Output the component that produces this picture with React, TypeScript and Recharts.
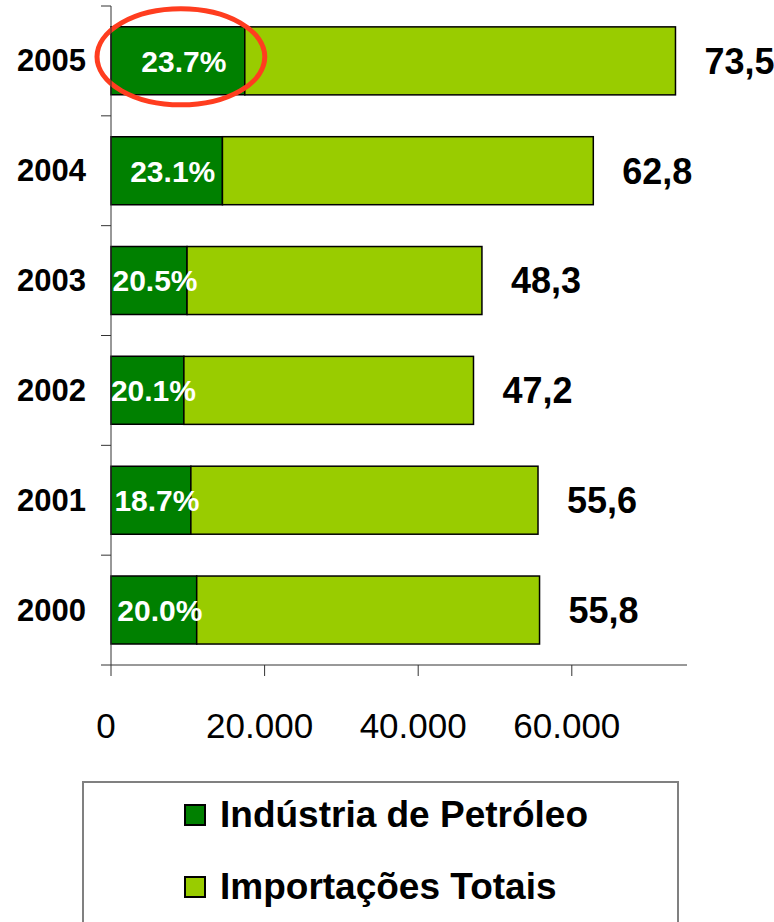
import { Bar, BarChart, XAxis, YAxis } from "recharts";

const years = ["2005", "2004", "2003", "2002", "2001", "2000"];
const petroleo = [17420, 14510, 9900, 9490, 10400, 11160];
const outrasImportacoes = [56080, 48290, 38400, 37710, 45200, 44640];
const totalLabels = ["73,5", "62,8", "48,3", "47,2", "55,6", "55,8"];
const shareLabels = ["23.7%", "23.1%", "20.5%", "20.1%", "18.7%", "20.0%"];
const xTicks = [0, 20000, 40000, 60000];
const highlightYear = "2005";

const series = [
  { key: "petroleo", name: "Indústria de Petróleo", color: "#008000" },
  { key: "outras", name: "Importações Totais", color: "#99cc00" },
];

const data = years.map((year, i) => ({
  year,
  petroleo: petroleo[i],
  outras: outrasImportacoes[i],
  total: totalLabels[i],
  share: shareLabels[i],
}));

const FONT = '"Liberation Sans", Arial, Helvetica, sans-serif';
const AXIS = "#333";

const fmt = (v: number) => String(v).replace(/\B(?=(\d{3})+(?!\d))/g, ".");

function YearTick(props: any) {
  const { x, y, payload, index } = props;
  const half = payload?.offset ?? 55;
  return (
    <g>
      <line x1={x + 15} x2={x + 25} y1={y - half} y2={y - half} stroke={AXIS} />
      {index === years.length - 1 && (
        <line x1={x + 15} x2={x + 25} y1={y + half} y2={y + half} stroke={AXIS} />
      )}
      <text x={x} y={y} dy="0.34em" textAnchor="end" fontSize={31} fontWeight="bold" fill="#000" fontFamily={FONT}>
        {payload.value}
      </text>
    </g>
  );
}

function ValueTick(props: any) {
  const { x, y, payload } = props;
  return (
    <text x={x - 5} y={y + 60} textAnchor="middle" fontSize={35} fill="#000" fontFamily={FONT}>
      {fmt(payload.value)}
    </text>
  );
}

// segmento externo: desenha também os rótulos e o destaque de 2005
function OuterSegment(props: any) {
  const { x, y, width, height, payload } = props;
  const unit = width / payload.outras;
  const greenW = payload.petroleo * unit;
  const greenX = x - greenW;
  const cy = y + height / 2;
  return (
    <g>
      <rect x={x} y={y} width={width} height={height} fill={series[1].color} stroke="#000" strokeWidth={1.5} />
      <text x={greenX + greenW / 2 + 6} y={cy} dy="0.36em" textAnchor="middle" fill="#fff" fontSize={30} fontWeight="bold" fontFamily={FONT}>
        {payload.share}
      </text>
      <text x={x + width + 29} y={cy} dy="0.36em" fill="#000" fontSize={36} fontWeight="bold" fontFamily={FONT}>
        {payload.total}
      </text>
      {payload.year === highlightYear && (
        <ellipse
          cx={greenX + greenW / 2 + 3}
          cy={cy - 4}
          rx={greenW / 2 + 17}
          ry={height / 2 + 14}
          fill="none"
          stroke="#ff3d1f"
          strokeWidth={5}
        />
      )}
    </g>
  );
}

export default function App() {
  return (
    <div style={{ position: "absolute", left: 0, top: 0, width: 774, height: 922, overflow: "hidden", background: "#fff", fontFamily: FONT }}>
      <BarChart
        layout="vertical"
        width={774}
        height={922}
        data={data}
        margin={{ top: 6, right: 87, bottom: 197, left: 0 }}
        barCategoryGap="19%"
      >
        <XAxis
          type="number"
          domain={[0, 75000]}
          ticks={xTicks}
          height={60}
          tickSize={11}
          tickMargin={2}
          stroke={AXIS}
          tick={<ValueTick />}
        />
        <YAxis
          type="category"
          dataKey="year"
          width={111}
          tickLine={false}
          tickSize={10}
          tickMargin={15}
          stroke={AXIS}
          tick={<YearTick />}
        />
        <Bar dataKey="petroleo" stackId="a" fill={series[0].color} stroke="#000" strokeWidth={1.5} isAnimationActive={false} />
        <Bar dataKey="outras" stackId="a" fill={series[1].color} shape={<OuterSegment />} isAnimationActive={false} />
      </BarChart>
      <div
        style={{
          position: "absolute",
          left: 82,
          top: 781,
          width: 597,
          height: 141,
          border: "2px solid #808080",
          borderBottom: "none",
          boxSizing: "border-box",
        }}
      >
        {series.map((s, i) => (
          <div key={s.key} style={{ position: "absolute", left: 100, top: 10 + i * 72, height: 44, display: "flex", alignItems: "center", whiteSpace: "nowrap" }}>
            <span style={{ display: "inline-block", width: 22, height: 22, background: s.color, border: "2px solid #000", boxSizing: "border-box", marginRight: 14 }} />
            <span style={{ fontSize: 37, fontWeight: "bold", lineHeight: "44px", color: "#000" }}>{s.name}</span>
          </div>
        ))}
      </div>
    </div>
  );
}
